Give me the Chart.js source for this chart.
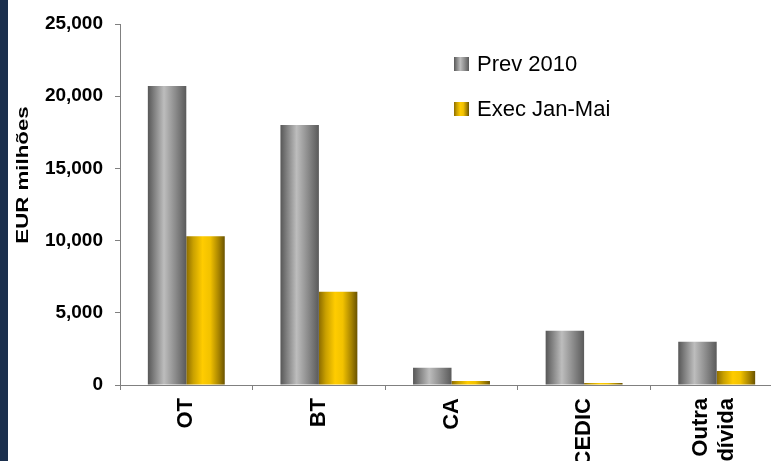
<!DOCTYPE html>
<html>
<head>
<meta charset="utf-8">
<script src="https://cdn.jsdelivr.net/npm/chart.js@4.4.1/dist/chart.umd.min.js"></script>
<style>
  html, body { margin: 0; padding: 0; background: #fff; }
  body { width: 771px; height: 461px; overflow: hidden; position: relative; }
  #strip { position: absolute; left: 0; top: 0; width: 8px; height: 461px; background: #1b2f4d; z-index: 2; }
  #c { position: absolute; left: 0; top: 0; }
</style>
</head>
<body>
<div id="strip"></div>
<canvas id="c" width="783" height="480"></canvas>
<script>
// Debt financing by instrument, EUR millions
const categories = ['OT', 'BT', 'CA', 'CEDIC', ['Outra', 'dívida']];
const seriesNames = ['Prev 2010', 'Exec Jan-Mai'];
const prev2010 = [20700, 18000, 1200, 3750, 3000];
const execJanMai = [10300, 6450, 280, 130, 970];
const yTicks = [0, 5000, 10000, 15000, 20000, 25000];
const yTitle = 'EUR milhões';

const CAT_PCT = 0.58;
const FONT = '"Liberation Sans", Arial, sans-serif';

// horizontal "cylinder" shading for each series
const shades = [
  [[0, '#575757'], [0.15, '#7c7c7c'], [0.42, '#bdbdbd'], [0.7, '#8e8e8e'], [1, '#5a5a5a']],
  [[0, '#8c6c00'], [0.18, '#c9a000'], [0.42, '#ffcc00'], [0.62, '#f2c200'], [0.85, '#a58200'], [1, '#6a5300']]
];

function shadeGradient(ctx2d, x0, x1, stops) {
  const g = ctx2d.createLinearGradient(x0, 0, x1, 0);
  stops.forEach(s => g.addColorStop(s[0], s[1]));
  return g;
}

function barFill(context) {
  const chart = context.chart;
  const xs = chart.scales && chart.scales.x;
  const ds = context.datasetIndex;
  if (!xs || context.dataIndex === undefined) return shades[ds][2][1];
  const center = xs.getPixelForValue(context.dataIndex);
  const catW = xs.width / categories.length;
  const barW = catW * CAT_PCT / 2;
  const left = center - barW + ds * barW;
  if (!isFinite(left) || !isFinite(barW) || barW <= 0) return shades[ds][2][1];
  return shadeGradient(chart.ctx, left, left + barW, shades[ds]);
}

// centre multi-line rotated category labels on their tick
const centreMultiline = {
  id: 'centreMultiline',
  beforeDraw(chart) {
    const xs = chart.scales.x;
    const items = xs.getLabelItems();
    items.forEach((it, i) => {
      const lbl = categories[i];
      if (Array.isArray(lbl) && !it._centred) {
        const lh = it.options.font ? it.options.font.lineHeight : 26;
        it.options.translation[0] -= (lbl.length - 1) * lh / 2 + 3;
        it._centred = true;
      }
    });
  }
};

// legend drawn inside the plot area, stacked vertically
const legendPlugin = {
  id: 'insideLegend',
  afterDraw(chart) {
    const c = chart.ctx;
    const rows = [64, 109];
    c.save();
    chart.data.datasets.forEach((d, i) => {
      const y = rows[i];
      c.fillStyle = shadeGradient(c, 454, 469, shades[i]);
      c.fillRect(454, y - 7, 15, 14);
      c.fillStyle = '#000';
      c.font = '22px ' + FONT;
      c.textAlign = 'left';
      c.textBaseline = 'middle';
      c.fillText(d.label, 477, y + 1);
    });
    c.restore();
  }
};

// rotated value-axis title, widened along its reading direction
const yTitlePlugin = {
  id: 'yTitle',
  afterDraw(chart) {
    const c = chart.ctx;
    c.save();
    c.translate(27.5, 175);
    c.rotate(-Math.PI / 2);
    c.scale(1.31, 1);
    c.fillStyle = '#000';
    c.font = 'bold 17px ' + FONT;
    c.textAlign = 'center';
    c.textBaseline = 'alphabetic';
    c.fillText(yTitle, 0, 0);
    c.restore();
  }
};

const chart = new Chart(document.getElementById('c'), {
  type: 'bar',
  data: {
    labels: categories,
    datasets: [
      { label: seriesNames[0], data: prev2010, backgroundColor: barFill, borderWidth: 0 },
      { label: seriesNames[1], data: execJanMai, backgroundColor: barFill, borderWidth: 0 }
    ]
  },
  options: {
    responsive: false,
    devicePixelRatio: 1,
    animation: false,
    categoryPercentage: CAT_PCT,
    barPercentage: 1.0,
    layout: { padding: { top: 24, left: 0, right: 0, bottom: 0 } },
    plugins: {
      legend: { display: false },
      tooltip: { enabled: false }
    },
    scales: {
      x: {
        grid: { drawOnChartArea: false, drawTicks: true, tickLength: 5, color: '#808080', offset: true },
        border: { color: '#808080', width: 1 },
        ticks: {
          autoSkip: false,
          minRotation: 90,
          maxRotation: 90,
          padding: 8,
          color: '#000',
          font: { family: FONT, size: 22, weight: 'bold', lineHeight: 1.2 }
        },
        afterFit(scale) { scale.height = 95; }
      },
      y: {
        min: 0,
        max: 25000,
        afterBuildTicks(scale) { scale.ticks = yTicks.map(v => ({ value: v })); },
        grid: { drawOnChartArea: false, drawTicks: true, tickLength: 5, color: '#808080' },
        border: { color: '#808080', width: 1 },
        ticks: {
          padding: 12,
          color: '#000',
          font: { family: FONT, size: 19, weight: 'bold' },
          callback: v => Number(v).toLocaleString('en-US')
        },
        afterFit(scale) { scale.width = 120; }
      }
    }
  },
  plugins: [centreMultiline, legendPlugin, yTitlePlugin]
});
</script>
</body>
</html>
